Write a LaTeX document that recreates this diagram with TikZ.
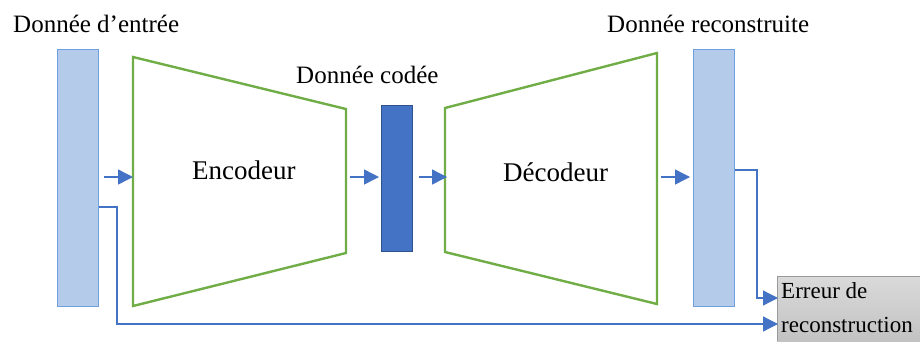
\documentclass[tikz,border=0pt]{standalone}
\usepackage{fontspec}
\setmainfont{Liberation Serif}
\usetikzlibrary{arrows.meta}
\definecolor{barfill}{HTML}{B4CCE9}
\definecolor{barline}{HTML}{6F9FDC}
\definecolor{codefill}{HTML}{4472C4}
\definecolor{codeline}{HTML}{2F528F}
\definecolor{netgreen}{HTML}{70AD47}
\definecolor{flow}{HTML}{4472C4}
\definecolor{errtop}{HTML}{DADADA}
\definecolor{errbot}{HTML}{C2C2C2}
\tikzset{
  databar/.style={draw=barline, fill=barfill, line width=1.3pt, inner sep=0pt, outer sep=0pt, anchor=north west},
  codebar/.style={draw=codeline, fill=codefill, line width=1.8pt, inner sep=0pt, outer sep=0pt, anchor=north west},
  net/.style={draw=netgreen, line width=2.4pt, line join=miter},
  flowarrow/.style={draw=flow, line width=1.4pt, -{Triangle[length=15pt,width=15pt]}},
  errarrow/.style={draw=flow, line width=1.2pt, -{Triangle[length=15pt,width=15pt]}},
  toplabel/.style={anchor=base west, inner sep=0pt, font=\fontsize{25}{30}\selectfont},
  netlabel/.style={anchor=base west, inner sep=0pt, font=\fontsize{27}{32}\selectfont},
  errlabel/.style={anchor=base west, inner sep=0pt, font=\fontsize{23}{28}\selectfont},
}
\begin{document}
\begin{tikzpicture}[x=1pt, y=-1pt]
\useasboundingbox (0,0) rectangle (920,341);

% input, code and output vectors
\node[databar, minimum width=41pt, minimum height=257pt] (in) at (57.5,49.5) {};
\node[codebar, minimum width=31pt, minimum height=146pt] (code) at (381.5,105.5) {};
\node[databar, minimum width=41pt, minimum height=257pt] (out) at (693.5,49.5) {};

% encoder and decoder trapezoids
\coordinate (e1) at (133,57);
\coordinate (e2) at (346,109);
\coordinate (e3) at (346,253);
\coordinate (e4) at (133,306);
\draw[net] (e1) -- (e2) -- (e3) -- (e4) -- cycle;
\coordinate (d1) at (445,108);
\coordinate (d2) at (657,53);
\coordinate (d3) at (657,304);
\coordinate (d4) at (445,252);
\draw[net] (d1) -- (d2) -- (d3) -- (d4) -- cycle;

% reconstruction error box
\shade[top color=errtop, bottom color=errbot] (777,276) rectangle (920,341);
\draw[draw=gray!80, line width=1pt] (777,341) -- (777,276) -- (920,276);
\node[errlabel] (err1) at (781,298) {Erreur de};
\node[errlabel] (err2) at (781,332) {reconstruction};

% labels
\node[toplabel] (lin) at (13,32) {Donnée d’entrée};
\node[toplabel] (lout) at (607,32) {Donnée reconstruite};
\node[toplabel] (lcode) at (296,83) {Donnée codée};
\node[netlabel] (lenc) at (192,179) {Encodeur};
\node[netlabel] (ldec) at (503,181) {Décodeur};

% data flow
\coordinate (a1s) at (104,177);  \coordinate (a1e) at (133,177);
\coordinate (a2s) at (350,177);  \coordinate (a2e) at (379,177);
\coordinate (a3s) at (419,177);  \coordinate (a3e) at (447,177);
\coordinate (a4s) at (661,177);  \coordinate (a4e) at (690,177);
\draw[flowarrow] (a1s) -- (a1e);
\draw[flowarrow] (a2s) -- (a2e);
\draw[flowarrow] (a3s) -- (a3e);
\draw[flowarrow] (a4s) -- (a4e);

% comparison paths into the error box
\coordinate (oin) at (98.5,207);
\coordinate (oout) at (734.5,170);
\coordinate (ein) at (778,324);
\coordinate (eout) at (778,298);
\draw[errarrow] (oin) -| (117,324) -- (ein);
\draw[errarrow] (oout) -| (757,298) -- (eout);
\end{tikzpicture}
\end{document}
